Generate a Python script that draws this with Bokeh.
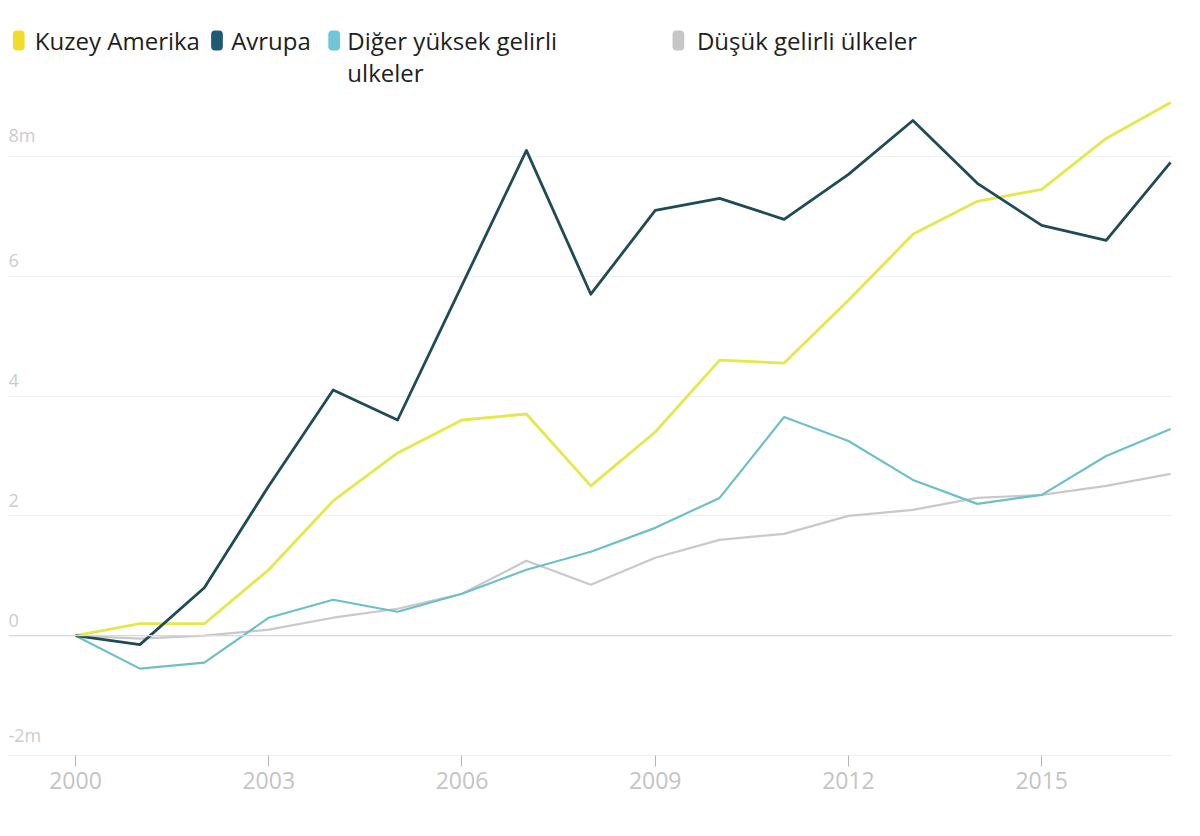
from bokeh.plotting import figure
from bokeh.models import Range1d, FixedTicker, Span, Label
from bokeh.layouts import column
from bokeh.core.properties import value
from bokeh.embed import file_html
from bokeh.resources import INLINE

years = list(range(2000, 2018))
kuzey_amerika = [0, 0.2, 0.2, 1.1, 2.25, 3.05, 3.6, 3.7, 2.5, 3.4, 4.6, 4.55, 5.6, 6.7, 7.25, 7.45, 8.3, 8.9]
avrupa = [0, -0.15, 0.8, 2.5, 4.1, 3.6, 5.85, 8.1, 5.7, 7.1, 7.3, 6.95, 7.7, 8.6, 7.55, 6.85, 6.6, 7.9]
diger = [0, -0.55, -0.45, 0.3, 0.6, 0.4, 0.7, 1.1, 1.4, 1.8, 2.3, 3.65, 3.25, 2.6, 2.2, 2.35, 3.0, 3.45]
dusuk = [0, -0.05, 0.0, 0.1, 0.3, 0.45, 0.7, 1.25, 0.85, 1.3, 1.6, 1.7, 2.0, 2.1, 2.3, 2.35, 2.5, 2.7]

series_names = ["Kuzey Amerika", "Avrupa", "Diğer yüksek gelirli\nulkeler", "Düşük gelirli ülkeler"]
series_colors = ["#e4e84a", "#1f4b57", "#6cc0c8", "#c9c9c9"]
swatch_colors = ["#f2dc2a", "#1f5a74", "#6ec6d8", "#c6c6c6"]

ytick_values = [-2, 0, 2, 4, 6, 8]
ytick_labels = ["-2m", "0", "2", "4", "6", "8m"]
xtick_values = [2000, 2003, 2006, 2009, 2012, 2015]

FONT = "Open Sans"

# ---- legend strip ----
LEG_H = 96
leg = figure(width=1192, height=LEG_H, x_range=Range1d(0, 1192), y_range=Range1d(LEG_H, 0),
             output_backend="svg", toolbar_location=None, min_border=0,
             outline_line_color=None)
leg.axis.visible = False
leg.grid.visible = False
swatch_x = [10.5, 213.5, 333.5, 686]
text_x = [27, 228, 347, 705]
leg.rect(x=swatch_x, y=[40] * 4, width=12, height=20, fill_color=swatch_colors,
         line_color=None, border_radius=4)
legend_lines_x, legend_lines_y, legend_lines_t = [], [], []
for tx, name in zip(text_x, series_names):
    for i, part in enumerate(name.split("\n")):
        legend_lines_x.append(tx)
        legend_lines_y.append(40 + i * 32)
        legend_lines_t.append(part)
leg.text(x=legend_lines_x, y=legend_lines_y, text=legend_lines_t, text_font=value(FONT),
         text_font_size="24px", text_color="#1e1e1e", text_baseline="middle", text_align="left")

# ---- main chart ----
p = figure(width=1192, height=836 - LEG_H, x_range=Range1d(1998.96, 2017.03), y_range=Range1d(-2, 9),
           output_backend="svg", toolbar_location=None, y_axis_location=None,
           min_border_left=8, min_border_right=20, min_border_top=0, min_border_bottom=81,
           outline_line_color=None)

p.xaxis.ticker = FixedTicker(ticks=xtick_values)
p.xaxis.minor_tick_line_color = None
p.xaxis.major_tick_out = 11
p.xaxis.major_tick_in = 0
p.xaxis.major_tick_line_color = "#b5b5b5"
p.xaxis.axis_line_color = "#f0f0f0"
p.xaxis.major_label_text_font = FONT
p.xaxis.major_label_text_font_size = "23px"
p.xaxis.major_label_text_color = "#c4c4c4"
p.xaxis.major_label_standoff = 5
p.xgrid.visible = False
p.ygrid.ticker = FixedTicker(ticks=ytick_values)
p.ygrid.grid_line_color = "#f1f1f1"

p.add_layout(Span(location=0, dimension="width", line_color="#d8d8d8", line_width=1.2))

for v, t in zip(ytick_values, ytick_labels):
    p.add_layout(Label(x=1998.96, y=v, text=t, x_offset=0, y_offset=9,
                       text_font=FONT, text_font_size="18px", text_color="#cccccc",
                       text_baseline="bottom", text_align="left"))

order = [(dusuk, 3, 2.2), (diger, 2, 2.2), (kuzey_amerika, 0, 2.8), (avrupa, 1, 2.8)]
for data, idx, w in order:
    p.line(years, data, line_color=series_colors[idx], line_width=w, line_join="round")

layout = column(leg, p, spacing=0)
open("out.html", "w").write(file_html(layout, INLINE))
